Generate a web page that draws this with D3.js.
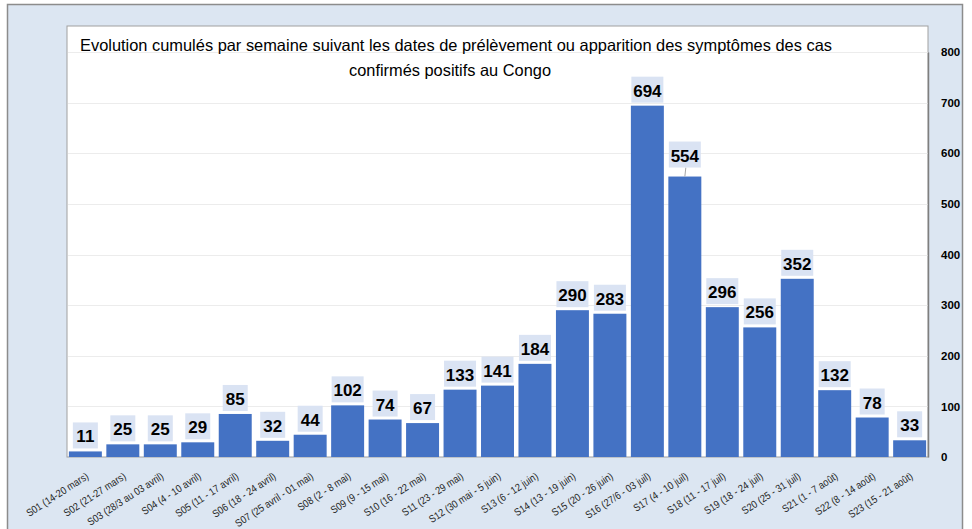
<!DOCTYPE html>
<html><head><meta charset="utf-8">
<script src="https://cdn.jsdelivr.net/npm/d3@7"></script>
<style>html,body{margin:0;padding:0;background:#fff;}svg{display:block;}</style>
</head><body>
<script>
const categories = ["S01 (14-20 mars)","S02 (21-27 mars)","S03 (28/3 au 03 avril)","S04 (4 - 10 avril)","S05 (11 - 17 avril)","S06 (18 - 24 avril)","S07 (25 avril - 01 mai)","S08 (2 - 8 mai)","S09 (9 - 15 mai)","S10 (16 - 22 mai)","S11 (23 - 29 mai)","S12 (30 mai - 5 juin)","S13 (6 - 12 juin)","S14 (13 - 19 juin)","S15 (20 - 26 juin)","S16 (27/6 - 03 juil)","S17 (4 - 10 juil)","S18 (11 - 17 juil)","S19 (18 - 24 juil)","S20 (25 - 31 juil)","S21 (1 - 7 août)","S22 (8 - 14 août)","S23 (15 - 21 août)"];
const cases = [11,25,25,29,85,32,44,102,74,67,133,141,184,290,283,694,554,296,256,352,132,78,33];
const yTicks = [0,100,200,300,400,500,600,700,800];
const titleLines = ["Evolution cumulés par semaine suivant les dates de prélèvement ou apparition des symptômes des cas","confirmés positifs au Congo"];

const W = 972, H = 529;
const svg = d3.select("body").append("svg").attr("width", W).attr("height", H);
const font = "'Liberation Sans', Arial, sans-serif";

// outer background + border
svg.append("rect").attr("x",0).attr("y",0).attr("width",W).attr("height",H).attr("fill","#ffffff");
svg.append("rect").attr("x",7.5).attr("y",4.5).attr("width",955).attr("height",540)
  .attr("fill","#dce6f2").attr("stroke","#8c8c8c").attr("stroke-width",1.5);

const plot = {l:67, r:928, t:26, b:457};
svg.append("rect").attr("x",plot.l).attr("y",plot.t).attr("width",plot.r-plot.l).attr("height",plot.b-plot.t)
  .attr("fill","#ffffff").attr("stroke","#a0a0a0").attr("stroke-width",1);

const x = d3.scaleBand().domain(categories).range([plot.l, plot.r]).paddingInner(0.12).paddingOuter(0.05);
const y = d3.scaleLinear().domain([0,800]).range([plot.b, 52]);

// gridlines
svg.append("g").selectAll("line").data(yTicks.filter(d=>d>0)).join("line")
  .attr("x1",plot.l+1).attr("x2",plot.r).attr("y1",d=>Math.round(y(d))+0.5).attr("y2",d=>Math.round(y(d))+0.5)
  .attr("stroke","#ececec").attr("stroke-width",1);

// right axis
const yAxis = d3.axisRight(y).tickValues(yTicks).tickSize(0).tickPadding(13).tickFormat(d3.format("d"));
const ya = svg.append("g").attr("transform",`translate(${plot.r},0)`).call(yAxis);
ya.select(".domain").attr("stroke","#7f7f7f").attr("stroke-width",1.5);
ya.selectAll("text").attr("font-family",font).attr("font-size",11.5).attr("font-weight","bold").attr("fill","#000");

// bars
svg.append("g").selectAll("rect").data(cases).join("rect")
  .attr("x",(d,i)=>x(categories[i])).attr("width",x.bandwidth())
  .attr("y",d=>y(d)).attr("height",d=>y(0)-y(d)).attr("fill","#4472c4");

// data labels
const lg = svg.append("g");
cases.forEach((d,i)=>{
  const cx = x(categories[i]) + x.bandwidth()/2;
  const lift = (i===16) ? 9 : 3;
  const bw = String(d).length===3 ? 32 : 25;
  const bh = 26;
  const by = y(d) - lift - bh;
  if (i===16) {
    lg.append("line").attr("x1",cx+1).attr("x2",cx).attr("y1",by+bh).attr("y2",y(d)).attr("stroke","#a6a6a6");
  }
  lg.append("rect").attr("x",cx-bw/2).attr("y",by).attr("width",bw).attr("height",bh).attr("fill","#dae3f3");
  lg.append("text").attr("x",cx).attr("y",by+20).attr("text-anchor","middle")
    .attr("font-family",font).attr("font-size",17).attr("font-weight","bold").attr("fill","#000").text(d);
});

// x labels
const xg = svg.append("g");
categories.forEach((c,i)=>{
  const cx = x(c) + x.bandwidth()/2 + 4;
  xg.append("text").attr("transform",`translate(${cx},${plot.b+21}) rotate(-33) scale(0.88,1)`)
    .attr("text-anchor","end").attr("font-family",font).attr("font-size",10.5).attr("fill","#262626").text(c);
});

// title
const tw = [752, 202];
svg.append("g").selectAll("text").data(titleLines).join("text")
  .attr("x",(d,i)=> i===0 ? 456 : 450).attr("y",(d,i)=>51+i*25).attr("text-anchor","middle")
  .attr("textLength",(d,i)=>tw[i]).attr("lengthAdjust","spacingAndGlyphs")
  .attr("font-family",font).attr("font-size",16.5).attr("fill","#000").text(d=>d);
</script>
</body></html>
